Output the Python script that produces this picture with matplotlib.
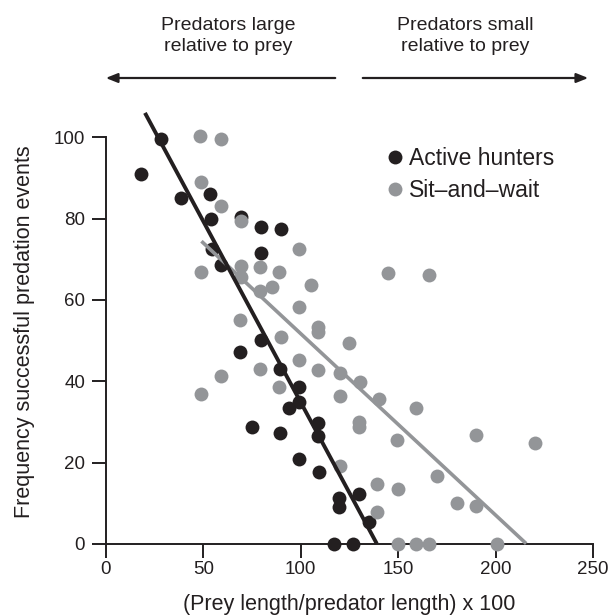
import matplotlib
matplotlib.use("Agg")
import matplotlib.pyplot as plt
import numpy as np

plt.rcParams['font.family'] = ['Liberation Sans', 'DejaVu Sans']

# Active hunters (x = prey/predator length x100, y = frequency)
active_x = [18, 28, 38.5, 53.5, 54, 69.5, 79.5, 90, 79.5, 54.5, 59, 79.5, 69, 89.5, 99, 99, 94,
            75, 89.5, 109, 109, 99, 109.5, 130, 119.5, 119.5, 135, 117, 127]
active_y = [91, 99.5, 85, 86, 80, 80.5, 78, 77.4, 71.5, 72.5, 68.6, 50.2, 47.3, 43, 38.7, 35, 33.5,
            28.7, 27.2, 29.8, 26.6, 21, 17.6, 12.3, 11.2, 9, 5.5, 0, 0]

# Sit-and-wait
sit_x = [48, 59, 49, 59, 69.5, 99, 49, 69.5, 79, 89, 69.5, 145, 166, 79, 85, 105, 99, 69, 109, 109,
         124.5, 90, 99, 79, 109, 120, 130.5, 59, 49, 89, 120, 140, 159, 130, 130, 149.5, 190, 220,
         120, 170, 139, 150, 180, 190, 139, 150, 159, 166, 200.5]
sit_y = [100.4, 99.6, 89, 83, 79.5, 72.6, 67, 68.3, 68.2, 66.8, 65.6, 66.7, 66.2, 62.3, 63.2, 63.7,
         58.2, 55, 53.3, 52.2, 49.5, 51, 45.3, 43, 42.8, 42, 39.8, 41.2, 37, 38.7, 36.5, 35.7, 33.4,
         30, 28.7, 25.6, 26.8, 24.8, 19.3, 16.6, 14.7, 13.5, 10, 9.3, 7.8, 0, 0, 0, 0]

# Regression lines (x range, intercept, slope)
active_fit_x = [20, 139]
active_fit = (123.8, -0.89)
sit_fit_x = [49, 215.7]
sit_fit = (96.3, -0.446)

x_ticks = [0, 50, 100, 150, 200, 250]
y_ticks = [0, 20, 40, 60, 80, 100]

black = '#231f20'
gray = '#939598'

fig = plt.figure(figsize=(6.11, 6.16), dpi=100)
ax = fig.add_axes([106/611, 1-544/616, 487/611, 406.7/616])

ax.plot(active_x, active_y, 'o', color=black, ms=10, mew=0, clip_on=False, zorder=3,
        label='Active hunters')
ax.plot(sit_x, sit_y, 'o', color=gray, ms=10, mew=0, clip_on=False, zorder=4,
        label='Sit\u2013and\u2013wait')
sx = np.array(sit_fit_x)
ax.plot(sx, sit_fit[0] + sit_fit[1]*sx, color=gray, lw=2.6, clip_on=False, zorder=5,
        solid_capstyle='butt')
axx = np.array(active_fit_x)
ax.plot(axx, active_fit[0] + active_fit[1]*axx, color=black, lw=2.8, clip_on=False, zorder=6,
        solid_capstyle='butt')

ax.set_xlim(0, 250)
ax.set_ylim(0, 100)
ax.set_xticks(x_ticks)
ax.set_yticks(y_ticks)
for s in ['top', 'right']:
    ax.spines[s].set_visible(False)
for s in ['left', 'bottom']:
    ax.spines[s].set_linewidth(1.4)
    ax.spines[s].set_color(black)
ax.tick_params(axis='both', length=10, width=1.4, color=black, labelsize=13.5, labelcolor=black)
ax.tick_params(axis='x', pad=2)
ax.tick_params(axis='y', pad=5)
ax.set_xlabel('(Prey length/predator length) x 100', fontsize=15.5, color=black, labelpad=12)
ax.set_ylabel('Frequency successful predation events', fontsize=15.5, color=black)
ax.yaxis.set_label_coords(-0.145, (544-332)/406.7)

leg = ax.legend(loc='upper left', bbox_to_anchor=(0.545, 0.998), frameon=False, fontsize=16.5,
                handletextpad=0.0, handlelength=1.25, labelspacing=0.38, borderaxespad=0)
for t in leg.get_texts():
    t.set_color(black)

# Top annotations
yarr = 1 - 78/616
fig.add_artist(matplotlib.patches.FancyArrowPatch((338/611, yarr), (103/611, yarr),
               transform=fig.transFigure, arrowstyle='-|>,head_length=7,head_width=2.8',
               color=black, lw=1.6, mutation_scale=1))
fig.add_artist(matplotlib.patches.FancyArrowPatch((360/611, yarr), (591/611, yarr),
               transform=fig.transFigure, arrowstyle='-|>,head_length=7,head_width=2.8',
               color=black, lw=1.6, mutation_scale=1))
fig.text(228/611, 1-36/616, 'Predators large\nrelative to prey', ha='center', va='center',
         fontsize=14, color=black, linespacing=1.25)
fig.text(465/611, 1-36/616, 'Predators small\nrelative to prey', ha='center', va='center',
         fontsize=14, color=black, linespacing=1.25)

fig.savefig('out.png', dpi=100)
